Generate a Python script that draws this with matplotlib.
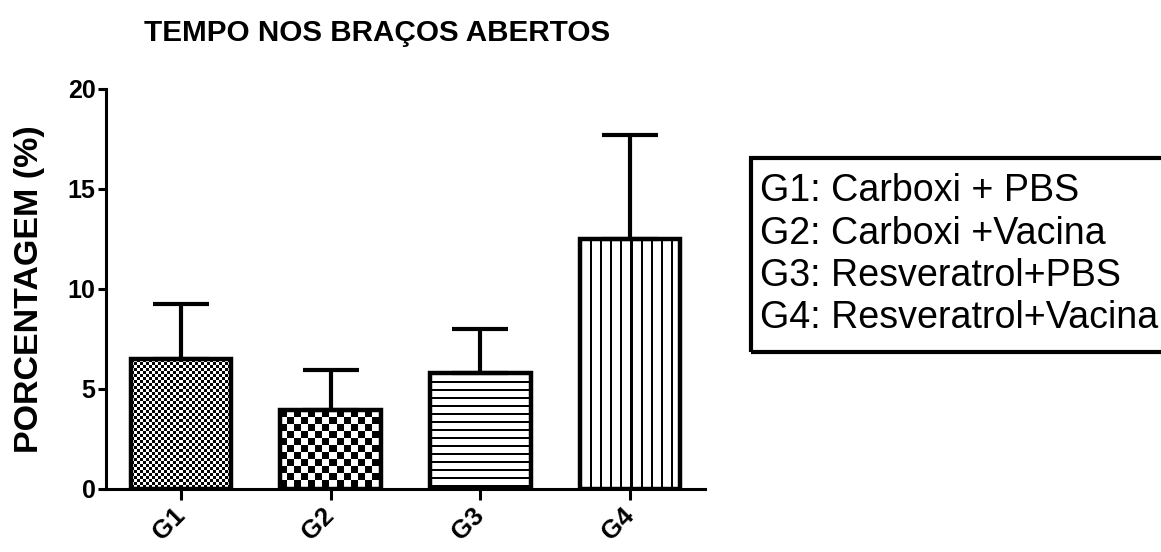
import numpy as np
import matplotlib
matplotlib.use("Agg")
import matplotlib.pyplot as plt
from matplotlib.patches import Rectangle

# ---- data ----
groups = ["G1", "G2", "G3", "G4"]
means = [6.5, 3.95, 5.8, 12.5]
sem = [2.75, 2.0, 2.2, 5.2]
legend_lines = [
    "G1: Carboxi + PBS",
    "G2: Carboxi +Vacina",
    "G3: Resveratrol+PBS",
    "G4: Resveratrol+Vacina",
]
title = "TEMPO NOS BRAÇOS ABERTOS"
ylabel = "PORCENTAGEM (%)"
yticks = [0, 5, 10, 15, 20]

plt.rcParams["font.family"] = ["Liberation Sans", "DejaVu Sans"]

W, H, DPI = 1161, 552, 100
fig = plt.figure(figsize=(W / DPI, H / DPI), dpi=DPI)

def px(x0, y0, x1, y1):
    """pixel box (from top-left) -> figure fraction [l, b, w, h]"""
    return [x0 / W, 1 - y1 / H, (x1 - x0) / W, (y1 - y0) / H]

ax = fig.add_axes(px(106, 89, 705, 489))
ax.set_xlim(-0.5, 3.5)
ax.set_ylim(0, 20)

x = np.arange(len(groups))
bar_w = 0.67
bars = ax.bar(x, means, width=bar_w, facecolor="none", edgecolor="black",
              linewidth=3.2, zorder=3)
ax.errorbar(x, means, yerr=[np.zeros(len(sem)), sem], fmt="none",
            ecolor="black", elinewidth=3.0, capsize=20, capthick=3.0, zorder=4)

# ---- fill patterns (pixel-exact) ----
def checker(h, w, cell):
    yy, xx = np.mgrid[0:h, 0:w]
    return (((yy // cell) + (xx // cell)) % 2).astype(float)

def hlines(h, w, period, thick):
    yy, xx = np.mgrid[0:h, 0:w]
    return ((yy % period) >= thick).astype(float)

def vlines(h, w, period, thick):
    yy, xx = np.mgrid[0:h, 0:w]
    return ((xx % period) >= thick).astype(float)

patterns = [
    lambda h, w: checker(h, w, 3),
    lambda h, w: checker(h, w, 7),
    lambda h, w: hlines(h, w, 8, 2),
    lambda h, w: vlines(h, w, 10, 2),
]
fig.canvas.draw()
for patch, pat in zip(bars.patches, patterns):
    bx, by = patch.get_x(), patch.get_y()
    bw, bh = patch.get_width(), patch.get_height()
    p0 = ax.transData.transform((bx, by))
    p1 = ax.transData.transform((bx + bw, by + bh))
    wpx = int(round(abs(p1[0] - p0[0])))
    hpx = int(round(abs(p1[1] - p0[1])))
    img = pat(hpx, wpx)
    ax.imshow(img, cmap="gray", vmin=0, vmax=1, interpolation="nearest",
              extent=(bx, bx + bw, by, by + bh), aspect="auto", zorder=2)
ax.set_xlim(-0.5, 3.5)
ax.set_ylim(0, 20)

# ---- axes styling ----
for s in ("top", "right"):
    ax.spines[s].set_visible(False)
for s in ("left", "bottom"):
    ax.spines[s].set_linewidth(2.2)
    ax.spines[s].set_zorder(5)

ax.set_yticks(yticks)
ax.set_yticklabels([str(t) for t in yticks], fontsize=18, fontweight="bold")
ax.tick_params(axis="y", direction="out", length=6, width=2.2, pad=1.5)
ax.set_xticks(x)
ax.set_xticklabels(groups, fontsize=18.5, fontweight="bold", rotation=45,
                   ha="right", va="center", rotation_mode="anchor")
ax.tick_params(axis="x", direction="out", length=8, width=2.2, pad=8.5)

ax.set_ylabel(ylabel, fontsize=24.5, fontweight="bold")
ax.yaxis.set_label_coords(-0.102, 0.5)

fig.text(377 / W, 1 - 33 / H, title, fontsize=21.3, fontweight="bold",
         ha="center", va="center")

# ---- legend box ----
box = Rectangle((751 / W, 1 - 352 / H), (1200 - 751) / W, (352 - 158) / H,
                transform=fig.transFigure, facecolor="none", edgecolor="black",
                linewidth=3.0, clip_on=False)
fig.add_artist(box)
base_y = 201
for i, line in enumerate(legend_lines):
    fig.text(760 / W, 1 - (base_y + i * 42.5) / H, line, fontsize=27.1,
             ha="left", va="baseline")

fig.savefig("out.png", dpi=DPI)
